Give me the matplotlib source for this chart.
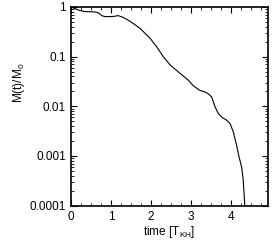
import numpy as np
import matplotlib
matplotlib.use('Agg')
import matplotlib.pyplot as plt
from matplotlib.ticker import MultipleLocator, LogLocator, NullFormatter

plt.rcParams['font.family'] = ['Liberation Sans', 'DejaVu Sans']
plt.rcParams['mathtext.fontset'] = 'custom'
plt.rcParams['mathtext.rm'] = 'Liberation Sans'
plt.rcParams['mathtext.it'] = 'Liberation Sans'

# mass fraction vs time
time = [0.0, 0.10, 0.18, 0.34, 0.50, 0.62, 0.70, 0.77, 0.85, 1.00, 1.10, 1.18,
        1.30, 1.42, 1.55, 1.73, 1.98, 2.14, 2.31, 2.48, 2.73, 2.93, 3.06, 3.22,
        3.35, 3.43, 3.52, 3.60, 3.68, 3.78, 3.89, 3.98, 4.06, 4.14, 4.20, 4.27,
        4.31, 4.35]
mass = [1.0, 0.93, 0.87, 0.81, 0.80, 0.79, 0.75, 0.67, 0.64, 0.64, 0.65, 0.67,
        0.62, 0.55, 0.47, 0.37, 0.234, 0.16, 0.10, 0.068, 0.046, 0.034, 0.026,
        0.021, 0.0195, 0.018, 0.0155, 0.010, 0.0073, 0.0060, 0.0053, 0.0045,
        0.0031, 0.0017, 0.0010, 0.0006, 0.00033, 0.0001]

fig = plt.figure(figsize=(2.76, 2.40), dpi=100)
ax = fig.add_axes([0.257, 0.143, 0.714, 0.828])

ax.plot(time, mass, color='black', linewidth=0.8)
ax.set_yscale('log')
ax.set_xlim(0, 4.93)
ax.set_ylim(1e-4, 1)

ax.set_xticks([0, 1, 2, 3, 4])
ax.xaxis.set_minor_locator(MultipleLocator(0.25))
ax.set_yticks([1e-4, 1e-3, 1e-2, 1e-1, 1])
ax.set_yticklabels(['0.0001', '0.001', '0.01', '0.1', '1'])
ax.yaxis.set_minor_locator(LogLocator(base=10, subs=np.arange(2, 10)))
ax.yaxis.set_minor_formatter(NullFormatter())

ax.tick_params(which='both', direction='in', top=True, right=True, labelsize=8.5)
ax.tick_params(which='major', length=4, width=0.8)
ax.tick_params(which='minor', length=2, width=0.6)
for s in ax.spines.values():
    s.set_linewidth(1.2)

ax.set_xlabel(r'time [T$_{\rm KH}$]', fontsize=8.5, labelpad=1)
ax.set_ylabel(r'M(t)/M$_0$', fontsize=8.5)
ax.yaxis.set_label_coords(-0.225, 0.62)

fig.savefig('out.png', dpi=100)
